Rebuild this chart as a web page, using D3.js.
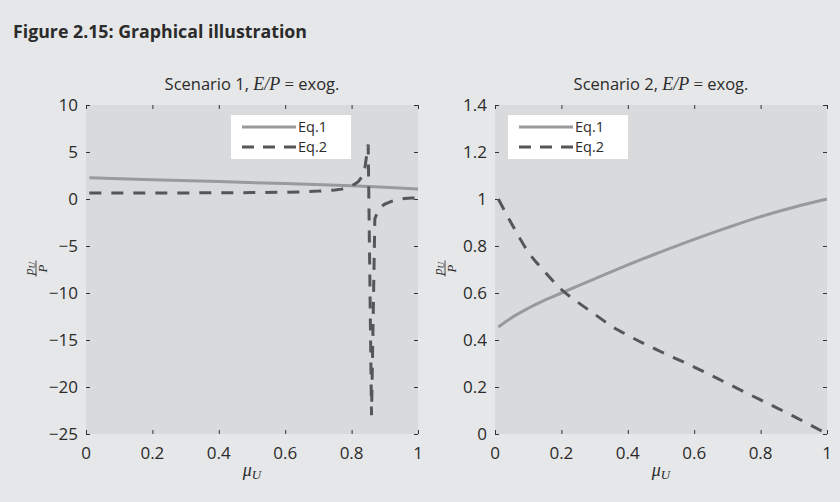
<!DOCTYPE html>
<html><head><meta charset="utf-8">
<script src="https://cdn.jsdelivr.net/npm/d3@7"></script>
<style>
html,body{margin:0;padding:0;background:#e6e7e8;}
svg{display:block;}
text{font-family:"Open Sans","Noto Sans",sans-serif;fill:#2b2b2b;}
.serif{font-family:"Liberation Serif","DejaVu Serif",serif;font-style:italic;}
</style></head>
<body>
<script>
// ---- data ----
const figureTitle = "Figure 2.15: Graphical illustration";
const panelTitles = ["Scenario 1, ", "Scenario 2, "];
const seriesNames = ["Eq.1", "Eq.2"];
const xTicks = [0, 0.2, 0.4, 0.6, 0.8, 1];
const yTicks1 = [10, 5, 0, -5, -10, -15, -20, -25];
const yTicks2 = [1.4, 1.2, 1, 0.8, 0.6, 0.4, 0.2, 0];

const s1x_eq1 = [0.01, 0.2, 0.4, 0.6, 0.8, 0.9, 1.0];
const s1y_eq1 = [2.27, 2.06, 1.85, 1.64, 1.40, 1.25, 1.06];
const s1x_eq2 = [0.01, 0.1, 0.2, 0.3, 0.4, 0.5, 0.6, 0.65, 0.7, 0.75, 0.77, 0.79, 0.8, 0.81, 0.82, 0.83, 0.84, 0.85, 0.86, 0.87, 0.88, 0.89, 0.9, 0.92, 0.94, 0.96, 0.98, 0.99];
const s1y_eq2 = [0.64, 0.64, 0.64, 0.65, 0.66, 0.68, 0.72, 0.76, 0.84, 0.97, 1.05, 1.25, 1.4, 1.6, 1.85, 2.3, 3.3, 5.8, -23, -2.1, -1.2, -0.8, -0.55, -0.25, -0.05, 0.05, 0.1, 0.12];

const s2x_eq1 = [0.01, 0.05, 0.1, 0.15, 0.2, 0.3, 0.4, 0.5, 0.6, 0.7, 0.8, 0.9, 1.0];
const s2y_eq1 = [0.455, 0.495, 0.535, 0.57, 0.60, 0.66, 0.72, 0.775, 0.828, 0.878, 0.925, 0.965, 1.0];
const s2x_eq2 = [0.01, 0.05, 0.1, 0.15, 0.2, 0.25, 0.3, 0.35, 0.4, 0.5, 0.6, 0.7, 0.8, 0.9, 0.99];
const s2y_eq2 = [1.0, 0.895, 0.775, 0.69, 0.615, 0.56, 0.51, 0.46, 0.42, 0.35, 0.285, 0.215, 0.145, 0.075, 0.008];

// ---- layout ----
const W = 840, H = 502;
const svg = d3.select("body").append("svg").attr("width", W).attr("height", H);
svg.append("rect").attr("width", W).attr("height", H).attr("fill", "#e6e7e8");

svg.append("text").attr("x", 13).attr("y", 38)
  .attr("font-size", 17).attr("font-weight", "bold").attr("fill", "#333")
  .attr("textLength", 294).attr("lengthAdjust", "spacingAndGlyphs").text(figureTitle);

const panels = [
  {x0: 86, x1: 418, title: panelTitles[0], yDomain: [-25, 10], yTicks: yTicks1, smooth: false,
   eq1: s1x_eq1.map((x, i) => [x, s1y_eq1[i]]), eq2: s1x_eq2.map((x, i) => [x, s1y_eq2[i]]),
   legend: {x: 231, y: 115, w: 120, h: 44}},
  {x0: 495, x1: 827, title: panelTitles[1], yDomain: [0, 1.4], yTicks: yTicks2, smooth: true,
   eq1: s2x_eq1.map((x, i) => [x, s2y_eq1[i]]), eq2: s2x_eq2.map((x, i) => [x, s2y_eq2[i]]),
   legend: {x: 508, y: 115, w: 120, h: 44}}
];
const yTop = 105, yBot = 434;

panels.forEach(p => {
  const x = d3.scaleLinear().domain([0, 1]).range([p.x0, p.x1]);
  const y = d3.scaleLinear().domain(p.yDomain).range([yBot, yTop]);
  const g = svg.append("g");
  g.append("rect").attr("x", p.x0).attr("y", yTop).attr("width", p.x1 - p.x0).attr("height", yBot - yTop)
    .attr("fill", "#d9dadb");

  const fmt = d => d < 0 ? "\u2212" + Math.abs(d) : String(d);
  const axL = g.append("g").attr("transform", `translate(${p.x0},0)`)
    .call(d3.axisRight(y).tickValues(p.yTicks).tickSize(4).tickFormat(""));
  const axR = g.append("g").attr("transform", `translate(${p.x1},0)`)
    .call(d3.axisLeft(y).tickValues(p.yTicks).tickSize(4).tickFormat(""));
  const axB = g.append("g").attr("transform", `translate(0,${yBot})`)
    .call(d3.axisTop(x).tickValues(xTicks).tickSize(4).tickFormat(""));
  const axT = g.append("g").attr("transform", `translate(0,${yTop})`)
    .call(d3.axisBottom(x).tickValues(xTicks).tickSize(4).tickFormat(""));
  [axL, axR, axB, axT].forEach(a => {
    a.select(".domain").remove();
    a.selectAll(".tick line").attr("stroke", "#333").attr("stroke-width", 1);
  });
  g.selectAll(".ylab").data(p.yTicks).join("text")
    .attr("x", p.x0 - 8).attr("y", d => y(d)).attr("dy", "0.36em")
    .attr("text-anchor", "end").attr("font-size", 17).text(fmt);
  g.selectAll(".xlab").data(xTicks).join("text")
    .attr("x", d => x(d)).attr("y", 459)
    .attr("text-anchor", "middle").attr("font-size", 17).text(fmt);

  const t = g.append("text").attr("x", (p.x0 + p.x1) / 2).attr("y", 90)
    .attr("text-anchor", "middle").attr("font-size", 16.5);
  t.append("tspan").text(p.title);
  t.append("tspan").attr("class", "serif").attr("font-size", 18).text("E/P");
  t.append("tspan").attr("font-family", "Liberation Serif").attr("font-size", 17).text(" = ");
  t.append("tspan").text("exog.");

  const xl = g.append("text").attr("x", (p.x0 + p.x1) / 2).attr("y", 476).attr("text-anchor", "middle")
    .attr("class", "serif").attr("font-size", 18);
  xl.append("tspan").text("\u03bc");
  xl.append("tspan").attr("font-size", 13).attr("dy", 3).text("U");

  const yl = g.append("g").attr("transform", `translate(${p.x0 - 50},${(yTop + yBot) / 2 - 1}) rotate(-90)`);
  const num = yl.append("text").attr("class", "serif").attr("font-size", 13).attr("text-anchor", "middle").attr("y", -3);
  num.append("tspan").text("p");
  num.append("tspan").attr("font-size", 9).attr("dy", 2).text("U");
  yl.append("line").attr("x1", -8).attr("x2", 8).attr("y1", 0).attr("y2", 0).attr("stroke", "#333").attr("stroke-width", 0.9);
  yl.append("text").attr("class", "serif").attr("font-size", 13).attr("text-anchor", "middle").attr("y", 11).text("P");

  const line = d3.line().x(d => x(d[0])).y(d => y(d[1]))
    .curve(p.smooth ? d3.curveMonotoneX : d3.curveLinear);
  g.append("path").datum(p.eq1).attr("d", line).attr("fill", "none")
    .attr("stroke", "#999a9b").attr("stroke-width", 3);
  g.append("path").datum(p.eq2).attr("d", line).attr("fill", "none")
    .attr("stroke", "#555657").attr("stroke-width", 3).attr("stroke-dasharray", "12,10");

  const L = p.legend;
  const lg = g.append("g");
  lg.append("rect").attr("x", L.x).attr("y", L.y).attr("width", L.w).attr("height", L.h).attr("fill", "#ffffff");
  seriesNames.forEach((nm, i) => {
    const ly = L.y + 12 + i * 20;
    lg.append("line").attr("x1", L.x + 11).attr("x2", L.x + 65).attr("y1", ly).attr("y2", ly)
      .attr("stroke", i === 0 ? "#999a9b" : "#555657").attr("stroke-width", 3)
      .attr("stroke-dasharray", i === 0 ? null : "12,9");
    lg.append("text").attr("x", L.x + 67).attr("y", ly).attr("dy", "0.36em")
      .attr("font-size", 14.5).text(nm);
  });
});
</script>
</body></html>
